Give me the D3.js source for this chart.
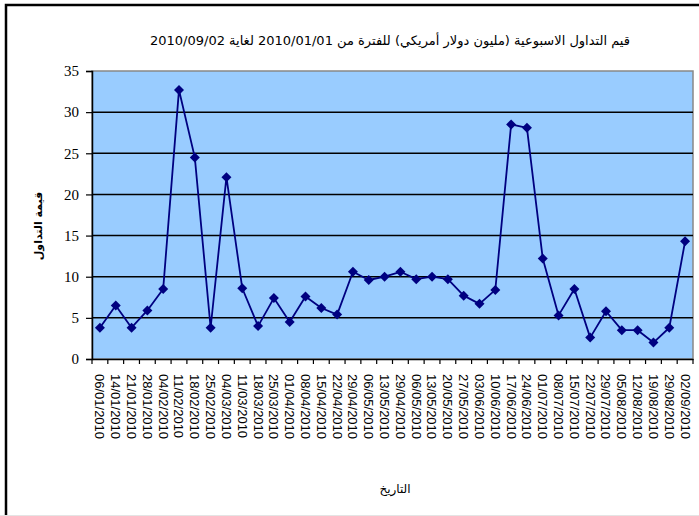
<!DOCTYPE html>
<html>
<head>
<meta charset="utf-8">
<script src="https://cdn.jsdelivr.net/npm/d3@7"></script>
<style>
  body { margin: 0; background: #fff; }
  svg { display: block; }
</style>
</head>
<body>
<svg id="svg" width="699" height="516"></svg>
<script>
// weekly trading values (million USD)
const dates = ["06/01/2010","14/01/2010","21/01/2010","28/01/2010","04/02/2010","11/02/2010",
  "18/02/2010","25/02/2010","04/03/2010","11/03/2010","18/03/2010","25/03/2010","01/04/2010",
  "08/04/2010","15/04/2010","22/04/2010","29/04/2010","06/05/2010","13/05/2010","29/04/2010",
  "06/05/2010","13/05/2010","20/05/2010","27/05/2010","03/06/2010","10/06/2010","17/06/2010",
  "24/06/2010","01/07/2010","08/07/2010","15/07/2010","22/07/2010","29/07/2010","05/08/2010",
  "12/08/2010","19/08/2010","29/08/2010","02/09/2010"];
const values = [3.8, 6.5, 3.8, 5.9, 8.5, 32.7, 24.5, 3.8, 22.1, 8.6, 4.0, 7.4, 4.5,
  7.6, 6.2, 5.4, 10.6, 9.6, 10.0, 10.6, 9.7, 10.0, 9.7, 7.7, 6.7, 8.4, 28.5,
  28.1, 12.2, 5.3, 8.5, 2.6, 5.8, 3.5, 3.5, 2.0, 3.8, 14.3];
const yTicks = [0, 5, 10, 15, 20, 25, 30, 35];

const title = "قيم التداول الاسبوعية (مليون دولار أمريكي)  للفترة من 2010/01/01  لغاية 2010/09/02";
const yTitle = "قيمة التداول";
const xTitle = "التاريخ";

const svg = d3.select("#svg");
const plot = {left: 92, right: 693, top: 71, bottom: 359};

const x = d3.scaleBand()
  .domain(d3.range(values.length))
  .range([plot.left, plot.right]);
const y = d3.scaleLinear()
  .domain([0, 35])
  .range([plot.bottom, plot.top]);

// outer frame (only top & left visible)
svg.append("path")
  .attr("d", `M6,516 V5 H699`)
  .attr("fill", "none")
  .attr("stroke", "#000")
  .attr("stroke-width", 2.5);
svg.append("line")
  .attr("x1", 0).attr("x2", 699).attr("y1", 515.5).attr("y2", 515.5)
  .attr("stroke", "#e4e4e4");

// plot background
svg.append("rect")
  .attr("x", plot.left).attr("y", plot.top)
  .attr("width", plot.right - plot.left).attr("height", plot.bottom - plot.top)
  .attr("fill", "#99ccff")
  .attr("stroke", "#888")
  .attr("stroke-width", 1.5);

// gridlines
svg.append("g")
  .selectAll("line")
  .data(yTicks.filter(d => d > 0 && d < 35))
  .join("line")
  .attr("x1", plot.left).attr("x2", plot.right)
  .attr("y1", d => y(d)).attr("y2", d => y(d))
  .attr("stroke", "#000")
  .attr("stroke-width", 1.5);

// y axis
const yAxis = svg.append("g")
  .attr("transform", `translate(${plot.left},0)`)
  .call(d3.axisLeft(y).tickValues(yTicks).tickSize(6).tickPadding(7));
yAxis.select(".domain").attr("stroke-width", 1.5);
yAxis.selectAll(".tick line").attr("stroke-width", 1.2);
yAxis.selectAll("text")
  .attr("font-family", "'Liberation Serif', 'Times New Roman', serif")
  .attr("font-size", 15)
  .attr("fill", "#000");

// x axis labels
const xAxis = svg.append("g")
  .attr("transform", `translate(0,${plot.bottom})`)
  .call(d3.axisBottom(x).tickSize(0).tickFormat(i => dates[i]));
xAxis.select(".domain").attr("stroke-width", 1.5);
xAxis.selectAll("text")
  .attr("transform", "rotate(90)")
  .attr("x", 15)
  .attr("y", 0)
  .attr("dy", "0.35em")
  .attr("text-anchor", "start")
  .attr("font-family", "'Liberation Sans', Arial, sans-serif")
  .attr("font-size", 13)
  .attr("fill", "#000");

// x tick marks between categories
svg.append("g")
  .selectAll("line")
  .data(d3.range(values.length + 1))
  .join("line")
  .attr("x1", i => i < values.length ? x(i) : x.range()[1])
  .attr("x2", i => i < values.length ? x(i) : x.range()[1])
  .attr("y1", plot.bottom).attr("y2", plot.bottom + 5)
  .attr("stroke", "#000")
  .attr("stroke-width", 1.2);

// series
const cx = i => x(i) + x.bandwidth() / 2;
const line = d3.line()
  .x((d, i) => cx(i))
  .y(d => y(d));

svg.append("path")
  .datum(values)
  .attr("fill", "none")
  .attr("stroke", "#000080")
  .attr("stroke-width", 1.8)
  .attr("stroke-linejoin", "round")
  .attr("d", line);

const diamond = d3.symbol(d3.symbolSquare, 50);
svg.append("g")
  .selectAll("path")
  .data(values)
  .join("path")
  .attr("transform", (d, i) => `translate(${cx(i)},${y(d)}) rotate(45)`)
  .attr("d", diamond)
  .attr("fill", "#000080");

// titles
svg.append("text")
  .attr("x", 390).attr("y", 45)
  .attr("text-anchor", "middle")
  .attr("direction", "rtl")
  .attr("font-family", "'DejaVu Sans', sans-serif")
  .attr("font-size", 13)
  .attr("fill", "#000")
  .text(title);

svg.append("text")
  .attr("transform", "translate(42,226) rotate(-90)")
  .attr("text-anchor", "middle")
  .attr("direction", "rtl")
  .attr("font-family", "'DejaVu Sans', sans-serif")
  .attr("font-weight", "bold")
  .attr("font-size", 11)
  .attr("fill", "#000")
  .text(yTitle);

svg.append("text")
  .attr("x", 395).attr("y", 493)
  .attr("text-anchor", "middle")
  .attr("direction", "rtl")
  .attr("font-family", "'DejaVu Sans', sans-serif")
  .attr("font-size", 12)
  .attr("fill", "#000")
  .text(xTitle);
</script>
</body>
</html>
